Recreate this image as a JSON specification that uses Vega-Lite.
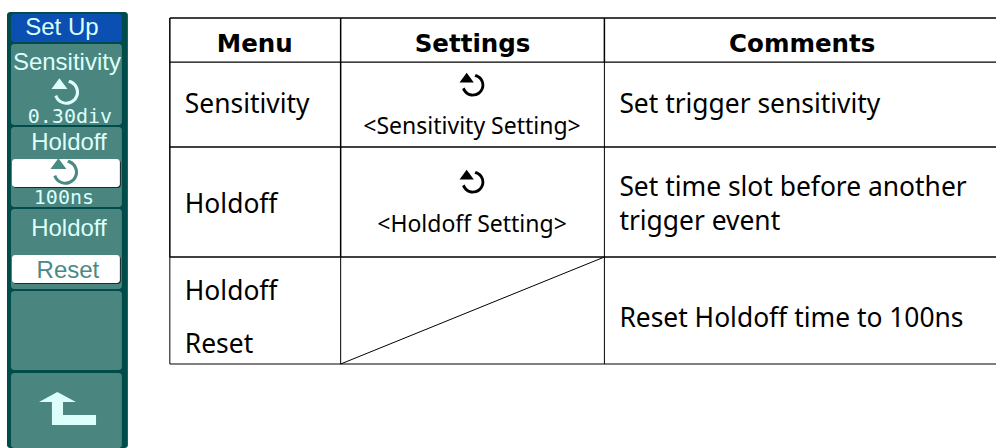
{
"$schema":"https://vega.github.io/schema/vega-lite/v6.json",
"width":997,"height":448,"padding":0,
"autosize":{"type":"fit","contains":"padding"},
"background":"#ffffff",
"view":{"stroke":null},
"config":{"axis":{"grid":false}},
"datasets":{
"panel":[
{"x0":7,"x1":128,"y0":12,"y1":448,"part":"frame"},
{"x0":11,"x1":122,"y0":14,"y1":42,"part":"title"},
{"x0":11,"x1":122,"y0":44,"y1":125,"part":"button"},
{"x0":11,"x1":122,"y0":127,"y1":207,"part":"button"},
{"x0":11,"x1":122,"y0":209,"y1":289,"part":"button"},
{"x0":11,"x1":122,"y0":291,"y1":370,"part":"button"},
{"x0":11,"x1":122,"y0":373,"y1":448,"part":"button"},
{"x0":13,"x1":121,"y0":160,"y1":188,"part":"shadow"},
{"x0":12,"x1":120,"y0":159,"y1":187,"part":"pressed"},
{"x0":13,"x1":121,"y0":256,"y1":284,"part":"shadow"},
{"x0":12,"x1":120,"y0":255,"y1":283,"part":"pressed"}
],
"lines":[
{"x0":170,"x1":997,"y0":18,"y1":18,"weight":"heavy"},
{"x0":170,"x1":997,"y0":62,"y1":62,"weight":"medium"},
{"x0":170,"x1":997,"y0":147,"y1":147,"weight":"heavy"},
{"x0":170,"x1":997,"y0":257,"y1":257,"weight":"heavy"},
{"x0":170,"x1":997,"y0":364,"y1":364,"weight":"thin"},
{"x0":170,"x1":170,"y0":18,"y1":257,"weight":"heavy"},
{"x0":170,"x1":170,"y0":257,"y1":364,"weight":"thin"},
{"x0":341,"x1":341,"y0":18,"y1":257,"weight":"heavy"},
{"x0":341,"x1":341,"y0":257,"y1":364,"weight":"thin"},
{"x0":605,"x1":605,"y0":18,"y1":62,"weight":"heavy"},
{"x0":605,"x1":605,"y0":62,"y1":364,"weight":"thin"},
{"x0":341,"x1":605,"y0":364,"y1":257,"weight":"thin"}
],
"knobs":[
{"xc":473,"yc":85,"kind":"table","part":"ink"},
{"xc":473,"yc":182,"kind":"table","part":"ink"},
{"xc":66,"yc":92,"kind":"panel","part":"glyph"},
{"xc":65,"yc":172,"kind":"panel","part":"teal"}
],
"arrow":[{"xc":67,"yc":408,"part":"glyph"}],
"heads":[
{"xc":255,"yb":52,"label":"Menu"},
{"xc":473,"yb":52,"label":"Settings"},
{"xc":803,"yb":52,"label":"Comments"}
],
"body":[
{"xl":185,"yb":113,"label":"Sensitivity"},
{"xl":185,"yb":213,"label":"Holdoff"},
{"xl":185,"yb":300,"label":"Holdoff"},
{"xl":185,"yb":353,"label":"Reset"},
{"xl":620,"yb":113,"label":"Set trigger sensitivity"},
{"xl":620,"yb":196,"label":"Set time slot before another"},
{"xl":620,"yb":230,"label":"trigger event"},
{"xl":620,"yb":327,"label":"Reset Holdoff time to 100ns"}
],
"small":[
{"xc":472.5,"yb":134,"label":"<Sensitivity Setting>"},
{"xc":472.5,"yb":232,"label":"<Holdoff Setting>"}
],
"panelText":[
{"xc":62,"yb":35,"label":"Set Up","part":"glyph"},
{"xc":67,"yb":70,"label":"Sensitivity","part":"glyph"},
{"xc":69,"yb":150,"label":"Holdoff","part":"glyph"},
{"xc":69,"yb":236,"label":"Holdoff","part":"glyph"},
{"xc":68,"yb":278,"label":"Reset","part":"teal"}
],
"panelMono":[
{"xc":70,"yb":123,"label":"0.30div","part":"glyph"},
{"xc":64,"yb":204,"label":"100ns","part":"glyph"}
]
},
"layer":[
{"data":{"name":"panel"},"mark":{"type":"rect","cornerRadius":3},
"encoding":{
"x":{"field":"x0","type":"quantitative","axis":null,"scale":{"domain":[0,997],"nice":false,"zero":false}},
"x2":{"field":"x1"},
"y":{"field":"y0","type":"quantitative","axis":null,"scale":{"domain":[448,0],"nice":false,"zero":false}},
"y2":{"field":"y1"},
"color":{"field":"part","type":"nominal","legend":null,"scale":{"domain":["frame","title","button","shadow","pressed","glyph","teal","ink"],"range":["#004c4a","#0b4fb3","#4a857f","#1c2b2a","#ffffff","#dcfffb","#4a8a85","#000000"]}}
}},
{"data":{"name":"lines"},"mark":{"type":"rule","color":"#000000"},
"encoding":{
"x":{"field":"x0","type":"quantitative"},
"x2":{"field":"x1"},
"y":{"field":"y0","type":"quantitative"},
"y2":{"field":"y1"},
"strokeWidth":{"field":"weight","type":"nominal","legend":null,"scale":{"domain":["thin","medium","heavy"],"range":[1,1.5,2]}}
}},
{"data":{"name":"knobs"},"transform":[{"filter":"datum.kind==='table'"}],
"mark":{"type":"point","filled":true,"opacity":1,"size":676,"strokeWidth":0,"shape":"M0.25,-0.85 A0.88,0.88 0 1 1 -0.8,0.3 L-0.6,0.2 A0.66,0.66 0 1 0 0.15,-0.64 Z M-0.45,-0.95 L0.1,-0.2 L-1,-0.2 Z"},
"encoding":{"x":{"field":"xc","type":"quantitative"},"y":{"field":"yc","type":"quantitative"},"color":{"field":"part","type":"nominal","legend":null}}},
{"data":{"name":"knobs"},"transform":[{"filter":"datum.kind==='panel'"}],
"mark":{"type":"point","filled":true,"opacity":1,"size":840,"strokeWidth":0,"shape":"M0.25,-0.85 A0.88,0.88 0 1 1 -0.8,0.3 L-0.6,0.2 A0.66,0.66 0 1 0 0.15,-0.64 Z M-0.45,-0.95 L0.1,-0.2 L-1,-0.2 Z"},
"encoding":{"x":{"field":"xc","type":"quantitative"},"y":{"field":"yc","type":"quantitative"},"color":{"field":"part","type":"nominal","legend":null}}},
{"data":{"name":"arrow"},
"mark":{"type":"point","filled":true,"opacity":1,"size":3600,"strokeWidth":0,"shape":"M-0.32,-0.53 L0.3,-0.2 L-0.13,-0.2 L-0.13,0.23 L0.97,0.23 L0.97,0.57 L-0.5,0.57 L-0.5,-0.2 L-0.93,-0.2 Z"},
"encoding":{"x":{"field":"xc","type":"quantitative"},"y":{"field":"yc","type":"quantitative"},"color":{"field":"part","type":"nominal","legend":null}}},
{"data":{"name":"heads"},
"mark":{"type":"text","font":"DejaVu Sans","fontWeight":"bold","fontSize":24.5,"align":"center","baseline":"alphabetic","color":"#000000"},
"encoding":{"x":{"field":"xc","type":"quantitative"},"y":{"field":"yb","type":"quantitative"},"text":{"field":"label"}}},
{"data":{"name":"body"},
"mark":{"type":"text","font":"Noto Sans","fontSize":26.4,"align":"left","baseline":"alphabetic","color":"#000000"},
"encoding":{"x":{"field":"xl","type":"quantitative"},"y":{"field":"yb","type":"quantitative"},"text":{"field":"label"}}},
{"data":{"name":"small"},
"mark":{"type":"text","font":"Noto Sans","fontSize":23,"align":"center","baseline":"alphabetic","color":"#000000"},
"encoding":{"x":{"field":"xc","type":"quantitative"},"y":{"field":"yb","type":"quantitative"},"text":{"field":"label"}}},
{"data":{"name":"panelText"},
"mark":{"type":"text","font":"Liberation Sans","fontSize":24,"align":"center","baseline":"alphabetic"},
"encoding":{"x":{"field":"xc","type":"quantitative"},"y":{"field":"yb","type":"quantitative"},"text":{"field":"label"},"color":{"field":"part","type":"nominal","legend":null}}},
{"data":{"name":"panelMono"},
"mark":{"type":"text","font":"DejaVu Sans Mono","fontSize":20,"align":"center","baseline":"alphabetic"},
"encoding":{"x":{"field":"xc","type":"quantitative"},"y":{"field":"yb","type":"quantitative"},"text":{"field":"label"},"color":{"field":"part","type":"nominal","legend":null}}}
]
}
